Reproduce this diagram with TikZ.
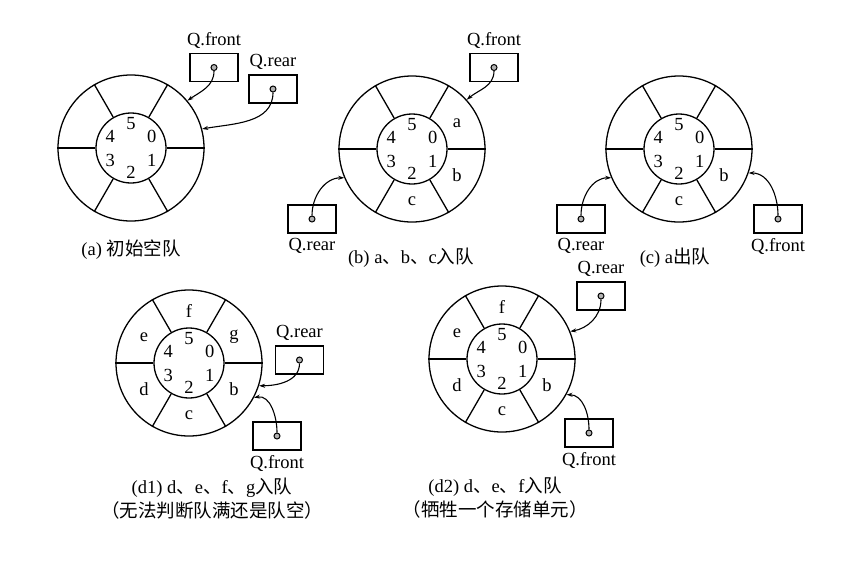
\documentclass[tikz,border=0pt]{standalone}
\usepackage{fontspec}
\setmainfont{Liberation Serif}
\newfontfamily\cjk{Noto Sans CJK SC}
\usetikzlibrary{arrows.meta,calc}

\begin{document}
\begin{tikzpicture}[x=1pt,y=1pt,>={Stealth[length=6pt,width=4pt]},
  font=\fontsize{18.5}{24}\selectfont, line width=1.3pt,
  ring/.style={draw,circle,minimum size=146pt,inner sep=0pt},
  hub/.style={draw,circle,minimum size=70pt,inner sep=0pt},
  ptrbox/.style={draw,minimum width=48pt,minimum height=28pt,inner sep=0pt},
  pdot/.style={draw,circle,fill=gray!60,line width=1pt,minimum size=6pt,inner sep=0pt},
  ptr/.style={->,line width=1.1pt}]
  \useasboundingbox (0,0) rectangle (858,-568);
  % the five circular queues
  \foreach \r/\x/\y in {a/131/-148,b/412/-149,c/679/-149,d1/189/-363,d2/502/-359} {
    \node[ring] (r\r) at (\x,\y) {};
    \node[hub] (h\r) at (\x,\y) {};
    \foreach \k in {0,60,...,300} \draw (h\r.\k) -- (r\r.\k);
    \foreach \i in {0,...,5} \node (n\r\i) at ($(\x,\y)+(30-60*\i:24)$) {\i};
  }
  % queue contents
  \foreach \r/\i/\e in {b/0/a,b/1/b,b/2/c,c/1/b,c/2/c,
      d1/0/g,d1/1/b,d1/2/c,d1/3/d,d1/4/e,d1/5/f,
      d2/1/b,d2/2/c,d2/3/d,d2/4/e,d2/5/f}
    \node (e\r\i) at ($(r\r)+(30-60*\i:52)$) {\e};
  % front and rear pointers
  \foreach \p/\x/\y/\t/\dy/\r/\a/\o/\n in {
      af/214/-67.5/front/27/a/40/-90/35, ar/273/-89/rear/27/a/15/-90/10,
      bf/494/-67.5/front/27/b/42/-90/40, br/312/-219/rear/-27/b/203/90/180,
      cr/581/-219/rear/-27/c/203/90/180, cf/778/-219/front/-27/c/-19/90/0,
      d1r/299.5/-360/rear/27/d1/-18/-90/0, d1f/277/-436/front/-27/d1/-28/90/10,
      d2r/601/-296/rear/27/d2/22/-90/10, d2f/589/-433/front/-27/d2/-29/90/0} {
    \node[ptrbox] (\p) at (\x,\y) {};
    \node[pdot] (\p-d) at (\p) {};
    \path (\p) ++(0,\dy) node (\p-l) {Q.\t};
    \draw[ptr] (\p-d) to[out=\o,in=\n] (r\r.\a);
  }
  % captions
  \node (cap-a) at (131,-250) {(a) {\cjk 初始空队}};
  \node (cap-b) at (411,-258) {(b) a{\cjk 、}b{\cjk 、}c{\cjk 入队}};
  \node (cap-c) at (675,-258) {(c) a{\cjk 出队}};
  \node[align=center] (cap-d1) at (212,-499)
    {(d1) d{\cjk 、}e{\cjk 、}f{\cjk 、}g{\cjk 入队}\\{\cjk （无法判断队满还是队空）}};
  \node[align=center] (cap-d2) at (495,-498)
    {(d2) d{\cjk 、}e{\cjk 、}f{\cjk 入队}\\{\cjk （牺牲一个存储单元）}};
\end{tikzpicture}
\end{document}
